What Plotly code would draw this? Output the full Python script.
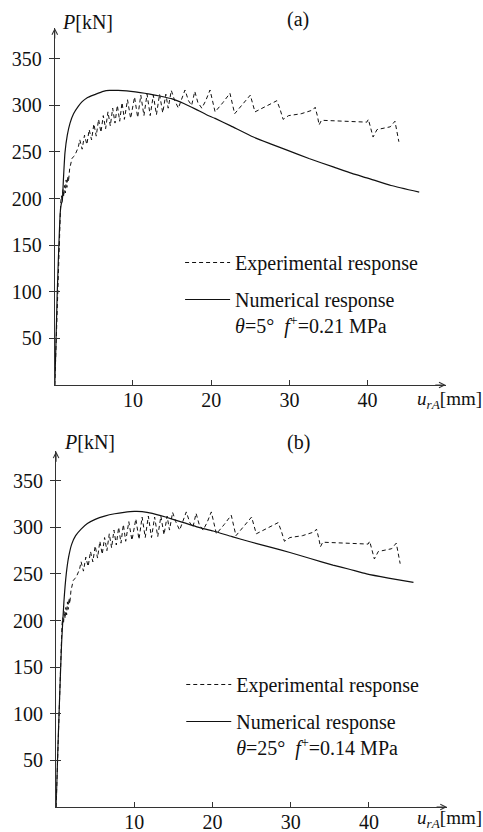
import plotly.graph_objects as go

# ---------------- data ----------------
# Experimental response (same test, shown in both panels)
exp_x = [0, 0.15, 0.3, 0.45, 0.6, 0.75, 0.85, 0.95, 1.05, 1.15, 1.25, 1.35, 1.45, 1.55, 1.65, 1.75, 1.9, 2.05, 2.2, 2.4, 2.6, 2.8, 3.0,
         3.2, 3.5, 3.8, 4.1, 4.4, 4.7, 5.0, 5.3, 5.6, 5.9, 6.2, 6.5, 6.8, 7.1, 7.4, 7.7, 8.0, 8.3, 8.6, 8.9, 9.3, 9.7,
         10.2, 10.6, 11.0, 11.4, 11.8, 12.2, 12.6, 13.0, 13.4, 13.8, 14.2, 14.5, 14.9,
         15.3, 15.8, 16.2, 16.65, 17.1, 17.5, 17.9, 18.3, 18.8, 19.3, 19.85, 20.5, 21.5, 22.4, 23.0, 24.0, 25.0, 25.6,
         26.8, 27.8, 28.4, 28.8, 29.2, 29.9, 31.5, 33.0, 33.3, 33.6, 33.8, 34.1, 37.0, 39.9, 40.1, 40.4, 40.7, 41.2,
         42.9, 43.5, 43.7, 43.9, 44.0]
exp_y = [0, 40, 85, 130, 170, 195, 203, 197, 210, 202, 214, 206, 220, 212, 224, 218, 232, 238, 243, 245, 247, 251, 255,
         263, 253, 268, 258, 274, 263, 280, 267, 285, 271, 289, 275, 293, 278, 297, 281, 300, 283, 303, 285, 306, 286,
         309, 287, 311, 289, 312, 289, 311, 290, 312, 292, 312, 297, 316,
         306, 297, 306, 316.5, 305, 300, 315, 303, 297, 305, 316.5, 293, 303, 313, 291, 301, 311, 293,
         298, 302, 305, 296, 285, 289, 291, 295, 298, 288, 279, 284, 283, 282, 285, 274, 266, 274,
         277, 283, 275, 268, 261]

# Numerical response, panel (a): theta=5 deg, f+=0.21 MPa
num_a_x = [0, 0.15, 0.3, 0.5, 0.7, 0.85, 0.95, 1.1, 1.3, 1.6, 1.95, 2.4, 3.0, 3.5, 4.1, 5.1, 6.2, 7.0, 8.1, 9.2,
           10.3, 11.5, 12.8, 14.0, 15.0, 16.5, 18.0, 19.4, 20.5, 22.5, 25.4, 27.5, 29.7, 32.5, 35.6, 38.0, 40.0, 43.0, 46.6]
num_a_y = [0, 45, 95, 145, 185, 195, 197, 220, 249, 268, 281, 291, 299, 304, 308, 311.5, 315, 316, 316, 315.5,
           314.5, 313, 311, 309, 307, 302, 296, 290, 286, 278, 266, 259, 252, 243, 234, 227, 222, 214, 207]

# Numerical response, panel (b): theta=25 deg, f+=0.14 MPa
num_b_x = [0, 0.2, 0.4, 0.7, 1.0, 1.3, 1.6, 2.0, 2.5, 3.2, 4.0, 5.0, 6.2, 7.5, 8.7, 10.0, 11.0, 12.3, 14.0, 16.3,
           18.0, 20.1, 22.5, 24.8, 27.5, 29.9, 32.5, 35.4, 37.5, 39.7, 42.5, 45.7]
num_b_y = [0, 55, 105, 175, 220, 250, 268, 282, 291, 298, 304, 308.5, 312, 314.5, 316, 317, 316.8, 315, 311, 305,
           300.5, 296, 290, 284.5, 278.5, 273, 266.5, 259.5, 255, 250, 245.5, 241]

x_ticks = [10, 20, 30, 40]
y_ticks = [50, 100, 150, 200, 250, 300, 350]
exp_name = "Experimental response"
num_a_name = "Numerical response<br><i>θ</i>=5°  <i>f</i><sup>+</sup>=0.21 MPa"
num_b_name = "Numerical response<br><i>θ</i>=25°  <i>f</i><sup>+</sup>=0.14 MPa"

# ---------------- figure ----------------
FONT = "Liberation Serif"
INK = "#111111"
AX = "#333333"

fig = go.Figure()
fig.add_trace(go.Scatter(x=exp_x, y=exp_y, mode="lines", name=exp_name,
                         line=dict(color=INK, width=1, dash="4px,3px"),
                         xaxis="x", yaxis="y", legend="legend", legendgroup="e"))
fig.add_trace(go.Scatter(x=num_a_x, y=num_a_y, mode="lines", name=num_a_name,
                         line=dict(color=INK, width=1.2, shape="spline", smoothing=0.5),
                         xaxis="x", yaxis="y", legend="legend", legendgroup="n"))
fig.add_trace(go.Scatter(x=exp_x, y=exp_y, mode="lines", name=exp_name,
                         line=dict(color=INK, width=1, dash="4px,3px"),
                         xaxis="x2", yaxis="y2", legend="legend2", legendgroup="e2"))
fig.add_trace(go.Scatter(x=num_b_x, y=num_b_y, mode="lines", name=num_b_name,
                         line=dict(color=INK, width=1.2, shape="spline", smoothing=0.5),
                         xaxis="x2", yaxis="y2", legend="legend2", legendgroup="n2"))
# invisible helpers for overlay tick axes (ticks crossing the y axis)
fig.add_trace(go.Scatter(x=[None], y=[None], xaxis="x", yaxis="y3", showlegend=False, hoverinfo="skip"))
fig.add_trace(go.Scatter(x=[None], y=[None], xaxis="x2", yaxis="y4", showlegend=False, hoverinfo="skip"))

tickfont = dict(family=FONT, size=20, color=INK)
xcommon = dict(range=[0, 50], showline=True, linecolor=AX, linewidth=1, ticks="inside", ticklen=5,
               tickcolor=AX, tickvals=x_ticks, showgrid=False, zeroline=False, tickfont=tickfont,
               automargin=False, ticklabelstandoff=-3)
ycommon = dict(showline=True, linecolor=AX, linewidth=1, ticks="outside", ticklen=5, tickcolor=AX,
               tickvals=y_ticks, showgrid=False, zeroline=False, tickfont=tickfont, ticklabelstandoff=3,
               automargin=False)
yover = dict(ticks="inside", ticklen=5, tickcolor=AX, tickvals=y_ticks, showticklabels=False,
             showline=False, showgrid=False, zeroline=False, automargin=False)

legcommon = dict(xanchor="left", yanchor="top", bgcolor="rgba(0,0,0,0)", font=dict(family=FONT, size=20, color=INK),
                 itemwidth=45, tracegroupgap=8, valign="top")

fig.update_layout(
    template="none",
    width=483, height=832,
    margin=dict(l=54, r=35, t=28, b=25),
    paper_bgcolor="white", plot_bgcolor="white",
    font=dict(family=FONT, size=20, color=INK),
    showlegend=True,
    xaxis=dict(domain=[0.002, 0.9944], anchor="y", **xcommon),
    yaxis=dict(domain=[0.5417, 1.0], anchor="x", range=[0, 383], **ycommon),
    xaxis2=dict(domain=[0.0053, 0.9977], anchor="y2", **xcommon),
    yaxis2=dict(domain=[0.0, 0.4566], anchor="x2", range=[0, 381.5], **ycommon),
    yaxis3=dict(overlaying="y", anchor="x", range=[0, 383], **yover),
    yaxis4=dict(overlaying="y2", anchor="x2", range=[0, 381.5], **yover),
    legend=dict(x=0.32, y=0.724, **legcommon),
    legend2=dict(x=0.323, y=0.1823, **legcommon),
)

afont = dict(family=FONT, size=20, color=INK)
lfont = dict(family=FONT, size=19, color=INK)
annots = [
    # panel titles
    dict(text="(a)", x=0.619, y=1.0103, xref="paper", yref="paper", xanchor="center", yanchor="middle", showarrow=False, font=afont),
    dict(text="(b)", x=0.620, y=0.4673, xref="paper", yref="paper", xanchor="center", yanchor="middle", showarrow=False, font=afont),
    # axis labels
    dict(text="<i>P</i>[kN]", x=0.0152, y=1.0077, xref="paper", yref="paper", xanchor="left", yanchor="middle", showarrow=False, font=afont),
    dict(text="<i>P</i>[kN]", x=0.0195, y=0.4685, xref="paper", yref="paper", xanchor="left", yanchor="middle", showarrow=False, font=afont),
    dict(text="<i>u</i><sub><i>rA</i></sub>[mm]", x=0.916, y=0.5225, xref="paper", yref="paper", xanchor="left", yanchor="middle", showarrow=False, font=lfont),
    dict(text="<i>u</i><sub><i>rA</i></sub>[mm]", x=0.916, y=-0.0155, xref="paper", yref="paper", xanchor="left", yanchor="middle", showarrow=False, font=lfont),
    # axis arrowheads
    dict(text="", x=0, y=383, xref="x", yref="y", ax=0, ay=12, showarrow=True, arrowhead=5, arrowsize=1.1, arrowwidth=1, arrowcolor=AX),
    dict(text="", x=50, y=0, xref="x", yref="y", ax=-12, ay=0, showarrow=True, arrowhead=5, arrowsize=1.1, arrowwidth=1, arrowcolor=AX),
    dict(text="", x=0, y=381.5, xref="x2", yref="y2", ax=0, ay=12, showarrow=True, arrowhead=5, arrowsize=1.1, arrowwidth=1, arrowcolor=AX),
    dict(text="", x=50, y=0, xref="x2", yref="y2", ax=-12, ay=0, showarrow=True, arrowhead=5, arrowsize=1.1, arrowwidth=1, arrowcolor=AX),
]
fig.update_layout(annotations=annots)

fig.write_html("out.html",
               config={"displayModeBar": False, "staticPlot": True},
               post_script="document.body.style.margin='0';document.body.style.overflow='hidden';")
